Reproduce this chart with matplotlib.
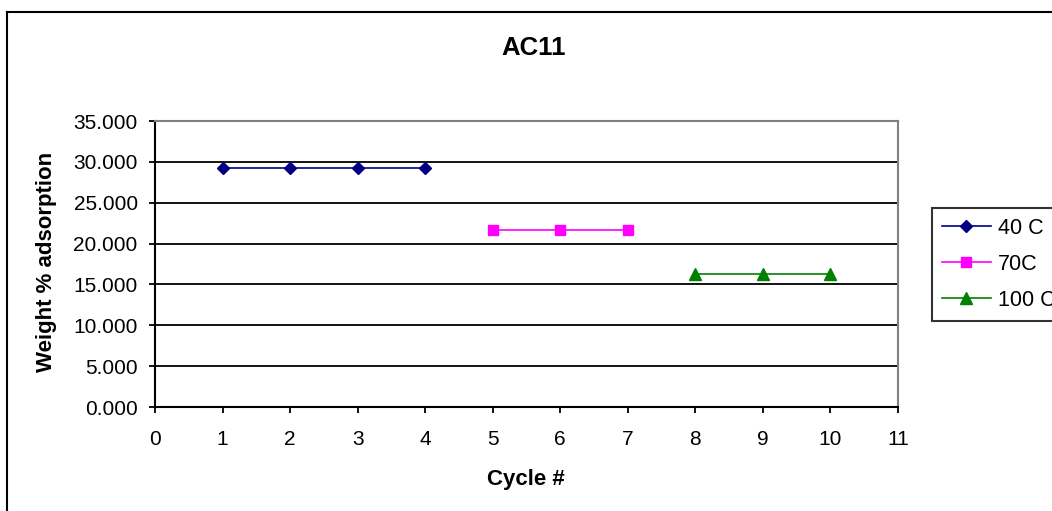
import matplotlib
matplotlib.use("Agg")
import matplotlib.pyplot as plt
from matplotlib.lines import Line2D
from matplotlib.ticker import FormatStrFormatter

plt.rcParams['font.family'] = ['Liberation Sans', 'DejaVu Sans']

# data
cycles_40 = [1, 2, 3, 4]
ads_40 = [29.3, 29.3, 29.3, 29.3]
cycles_70 = [5, 6, 7]
ads_70 = [21.7, 21.7, 21.7]
cycles_100 = [8, 9, 10]
ads_100 = [16.3, 16.3, 16.3]
y_ticks = [0, 5, 10, 15, 20, 25, 30, 35]
x_ticks = list(range(0, 12))

W, H = 1052, 511
fig = plt.figure(figsize=(W / 100, H / 100), dpi=100)
ax = fig.add_axes([155 / W, 1 - 407 / H, (898 - 155) / W, (407 - 121) / H])

ax.plot(cycles_40, ads_40, color='#000080', marker='D', markersize=6.5, lw=1.2, label='40 C')
ax.plot(cycles_70, ads_70, color='#FF00FF', marker='s', markersize=7, lw=1.2, label='70C')
ax.plot(cycles_100, ads_100, color='#008000', marker='^', markersize=9, lw=1.2, label='100 C')

ax.set_xlim(0, 11)
ax.set_ylim(0, 35)
ax.set_xticks(x_ticks)
ax.set_yticks(y_ticks)
ax.yaxis.set_major_formatter(FormatStrFormatter('%.3f'))
ax.grid(axis='y', color='black', lw=1.3)
ax.set_axisbelow(True)
for s in ['top', 'right']:
    ax.spines[s].set_color('#808080')
    ax.spines[s].set_linewidth(1.5)
for s in ['left', 'bottom']:
    ax.spines[s].set_color('black')
    ax.spines[s].set_linewidth(1.5)
ax.tick_params(axis='both', direction='out', length=4.5, width=1.3, labelsize=15)
ax.tick_params(axis='x', pad=12)
ax.tick_params(axis='y', pad=8)

fig.text(534 / W, 1 - 48 / H, 'AC11', ha='center', va='center', fontsize=18.5, fontweight='bold')
fig.text(526 / W, 1 - 480 / H, 'Cycle #', ha='center', va='center', fontsize=16, fontweight='bold')
fig.text(47 / W, 1 - 262 / H, 'Weight % adsorption', ha='center', va='center',
         rotation=90, fontsize=16, fontweight='bold')

leg = fig.legend(loc='upper left', bbox_to_anchor=(932 / W, 1 - 208 / H), fontsize=15.5,
                 frameon=True, fancybox=False, shadow=False, borderpad=0.45,
                 handlelength=2.3, handletextpad=0.3, labelspacing=0.7, borderaxespad=0)
leg.get_frame().set_edgecolor('black')
leg.get_frame().set_linewidth(1.5)

# outer chart border (only top and left visible)
fig.add_artist(Line2D([7 / W, 7 / W], [0, 1 - 12 / H], color='black', lw=1.5))
fig.add_artist(Line2D([7 / W, 1], [1 - 12 / H, 1 - 12 / H], color='black', lw=1.5))

fig.savefig('out.png', dpi=100)
